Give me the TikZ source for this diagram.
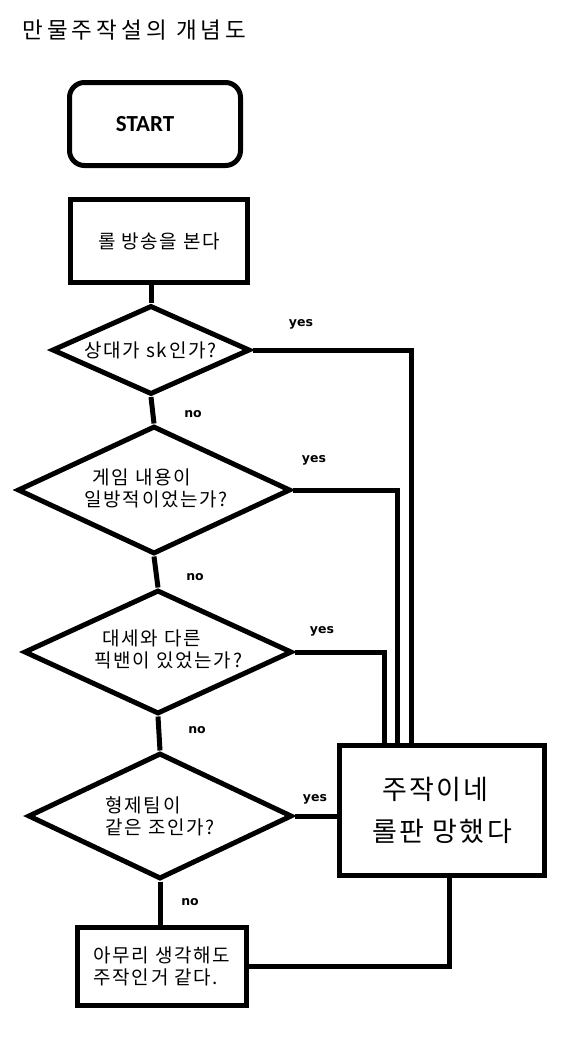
\documentclass[tikz,border=0pt]{standalone}
\usepackage{fontspec}
\usetikzlibrary{shapes.geometric}
\newfontfamily\kr[LetterSpace=9]{Noto Sans CJK KR}
\newfontfamily\krtitle[LetterSpace=18]{Noto Sans CJK KR}
\newfontfamily\labfont{DejaVu Sans}
\newfontfamily\startfont{Carlito}
\tikzset{
  box/.style={draw, rectangle, inner sep=0pt},
  dia/.style={draw, diamond, inner sep=0pt},
  body/.style={font=\kr\fontsize{19pt}{22pt}\selectfont},
  dtext/.style={body, anchor=west, align=left, inner sep=0pt},
  yn/.style={font=\labfont\bfseries\fontsize{12.5pt}{14pt}\selectfont, inner sep=0pt},
}
\begin{document}
\begin{tikzpicture}[x=1pt, y=-1pt, line width=5pt]
\fill[white] (0,0) rectangle (564,1060);
\useasboundingbox (0,0) rectangle (564,1060);

\node[anchor=west, inner sep=0pt, font=\krtitle\fontsize{22.5pt}{26pt}\selectfont] (title) at (20,30) {만물주작설의 개념도};

\node[box, rounded corners=15pt, minimum width=171pt, minimum height=83pt,
      font=\startfont\bfseries\fontsize{23pt}{26pt}\selectfont] (start) at (155,124) {START\hspace*{20pt}};

\node[box, body, minimum width=177pt, minimum height=83pt] (b1) at (159,241) {롤 방송을 본다};

\node[dia, minimum width=198pt, minimum height=89pt] (d1) at (151,350) {};
\node[dtext] (t1) at (82,350) {상대가 sk인가?};

\node[dia, minimum width=273pt, minimum height=128pt] (d2) at (154,490) {};
\node[dtext] (t2) at (82,488) {\hspace*{8pt}게임 내용이\\일방적이었는가?};

\node[dia, minimum width=268pt, minimum height=124pt] (d3) at (158,652) {};
\node[dtext] (t3) at (92,649) {\hspace*{8pt}대세와 다른\\픽밴이 있었는가?};

\node[dia, minimum width=264pt, minimum height=126pt] (d4) at (160,816) {};
\node[dtext] (t4) at (103,816) {형제팀이\\같은 조인가?};

\node[box, body, align=left, minimum width=169pt, minimum height=78pt] (b2) at (162,966.5) {아무리 생각해도\\주작인거 같다.};

\node[box, align=left, minimum width=205pt, minimum height=130pt,
      font=\kr\fontsize{27pt}{42pt}\selectfont] (big) at (442,810.5) {\hspace*{10pt}주작이네\\롤판 망했다};

% connectors
\draw (b1.south -| d1.north) -- (d1.north);
\draw (d1.south) -- (d2.north);
\draw (d2.south) -- (d3.north);
\draw (d3.south) -- (d4.north);
\draw (d4.south) -- (d4.south |- b2.north);
\draw (d1.east) -| ([xshift=-31pt]big.north);
\draw (d2.east) -| ([xshift=-45pt]big.north);
\draw (d3.east) -| ([xshift=-58pt]big.north);
\draw (d4.east) -- (d4.east -| big.west);
\draw (b2.east) -| ([xshift=7pt]big.south);

% labels
\node[yn] (y1) at (301,324) {yes};
\node[yn] (y2) at (314,460) {yes};
\node[yn] (y3) at (322,631) {yes};
\node[yn] (y4) at (315,799) {yes};
\node[yn] (n1) at (193,414) {no};
\node[yn] (n2) at (195,577) {no};
\node[yn] (n3) at (197,730) {no};
\node[yn] (n4) at (190,902) {no};
\end{tikzpicture}
\end{document}
